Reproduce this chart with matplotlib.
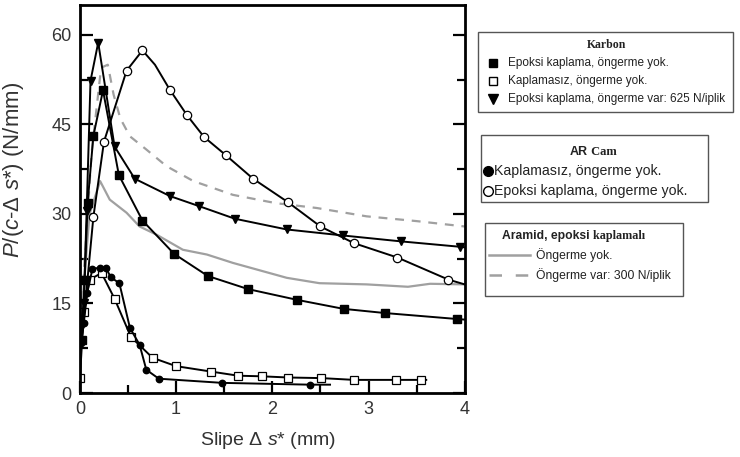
import numpy as np
import matplotlib.pyplot as plt
from matplotlib.lines import Line2D
from matplotlib.patches import Rectangle
from matplotlib.ticker import MultipleLocator

plt.rcParams['font.family'] = ['Liberation Sans', 'DejaVu Sans']
plt.rcParams['mathtext.fontset'] = 'custom'
plt.rcParams['mathtext.rm'] = 'Liberation Sans'
plt.rcParams['mathtext.it'] = 'Liberation Sans:italic'

# Karbon, epoksi kaplama, öngerme yok (dolu kare)
kare_dolu_x = [0.0, 0.02, 0.05, 0.08, 0.14, 0.24, 0.405, 0.65, 0.98, 1.33, 1.75, 2.26, 2.74, 3.17, 3.92, 4.0]
kare_dolu_y = [8.0, 8.9, 19.0, 31.8, 43.1, 50.7, 36.5, 28.9, 23.3, 19.6, 17.4, 15.6, 14.1, 13.4, 12.4, 12.3]

# Karbon, kaplamasız, öngerme yok (boş kare)
kare_bos_x = [0.0, 0.04, 0.1, 0.225, 0.36, 0.53, 0.755, 1.0, 1.36, 1.645, 1.89, 2.165, 2.51, 2.85, 3.29, 3.55, 3.6]
kare_bos_y = [2.5, 13.5, 19.0, 20.1, 15.8, 9.4, 5.9, 4.5, 3.6, 2.9, 2.8, 2.6, 2.5, 2.2, 2.2, 2.2, 2.2]

# Karbon, epoksi kaplama, öngerme var: 625 N/iplik (üçgen)
ucgen_x = [0.0, 0.04, 0.07, 0.11, 0.19, 0.36, 0.57, 0.935, 1.24, 1.61, 2.15, 2.73, 3.34, 3.95, 4.0]
ucgen_y = [10.5, 15.0, 30.5, 52.3, 58.7, 41.3, 35.9, 33.0, 31.3, 29.2, 27.4, 26.4, 25.4, 24.5, 24.4]

# AR Cam, kaplamasız, öngerme yok (dolu daire)
daire_dolu_x = [0.01, 0.04, 0.076, 0.13, 0.21, 0.27, 0.32, 0.41, 0.52, 0.62, 0.69, 0.82, 1.48, 2.39, 2.6]
daire_dolu_y = [8.4, 11.7, 16.8, 20.8, 21.0, 21.0, 19.4, 18.4, 10.9, 8.1, 3.9, 2.4, 1.7, 1.4, 1.4]

# AR Cam, epoksi kaplama, öngerme yok (boş daire)
daire_bos_x = [0.02, 0.14, 0.25, 0.485, 0.65, 0.78, 0.935, 1.115, 1.29, 1.52, 1.8, 2.16, 2.5, 2.85, 3.3, 3.83, 4.0]
daire_bos_y = [9.0, 29.5, 42.1, 54.0, 57.4, 55.0, 50.8, 46.5, 42.9, 39.8, 35.9, 32.0, 27.9, 25.1, 22.7, 19.0, 18.2]

# Aramid, epoksi kaplamalı
aramid_yok_x = [0.0, 0.1, 0.21, 0.31, 0.485, 0.62, 0.8, 1.07, 1.32, 1.59, 2.15, 2.49, 2.98, 3.41, 3.64, 4.0]
aramid_yok_y = [10.0, 30.0, 35.5, 32.4, 30.2, 27.9, 26.5, 24.0, 23.2, 21.8, 19.3, 18.4, 18.2, 17.8, 18.3, 18.2]
aramid_var_x = [0.0, 0.12, 0.22, 0.29, 0.35, 0.42, 0.52, 0.69, 0.9, 1.18, 1.59, 2.04, 2.46, 2.98, 3.5, 4.0]
aramid_var_y = [10.0, 40.0, 54.5, 55.0, 50.0, 46.0, 43.0, 40.8, 38.0, 35.5, 33.2, 31.8, 31.0, 29.6, 28.8, 27.9]

W, H = 740, 457
fig = plt.figure(figsize=(W / 100, H / 100), dpi=100)
ax = fig.add_axes([0.108, 0.140, 0.520, 0.849])

lw = 1.4
gri = '#a0a0a0'
ax.plot(aramid_yok_x, aramid_yok_y, color=gri, lw=1.6)
ax.plot(aramid_var_x, aramid_var_y, color=gri, lw=1.6, ls=(0, (4, 3.5)))

ax.plot(kare_bos_x, kare_bos_y, color='black', lw=lw, marker='s', ms=5.2,
        mfc='white', mec='black', mew=0.9, markevery=list(range(len(kare_bos_x) - 1)))
ax.plot(daire_dolu_x, daire_dolu_y, color='black', lw=lw, marker='o', ms=4.6,
        mfc='black', mec='black', markevery=list(range(len(daire_dolu_x) - 1)))
ax.plot(kare_dolu_x, kare_dolu_y, color='black', lw=lw, marker='s', ms=5.5,
        mfc='black', mec='black', markevery=list(range(1, len(kare_dolu_x) - 1)))
ax.plot(ucgen_x, ucgen_y, color='black', lw=lw, marker='v', ms=5.5,
        mfc='black', mec='black', markevery=list(range(len(ucgen_x) - 1)))
ax.plot(daire_bos_x, daire_bos_y, color='black', lw=lw, marker='o', ms=6,
        mfc='white', mec='black', mew=0.9,
        markevery=[i for i in range(1, len(daire_bos_x) - 1) if i != 5])

ax.set_xlim(0, 4)
ax.set_ylim(0, 65)
ax.xaxis.set_major_locator(MultipleLocator(1))
ax.xaxis.set_minor_locator(MultipleLocator(0.5))
ax.yaxis.set_minor_locator(MultipleLocator(7.5))
ax.set_yticks([0, 15, 30, 45, 60])
ax.tick_params(which='both', direction='in', right=True, top=False, width=1.6,
               labelsize=13, pad=6, labelcolor='#333333')
ax.tick_params(which='major', length=9)
ax.tick_params(which='minor', length=6)
for sp in ax.spines.values():
    sp.set_linewidth(2)

ax.set_xlabel(r'Slipe $\Delta$ $s$* (mm)', fontsize=14, color='#333333')
ax.set_ylabel(r'$P$/($c$-$\Delta$ $s$*) (N/mm)', fontsize=16, color='#333333')
ax.xaxis.set_label_coords(0.49, -0.095)
ax.yaxis.set_label_coords(-0.14, 0.575)


# Lejant kutuları, şekil pikselleriyle yerleştirilir
def fp(x, y):
    return x / W, 1 - y / H


def kutu(x0, y0, x1, y1):
    fig.patches.append(Rectangle(fp(x0, y1), (x1 - x0) / W, (y1 - y0) / H,
                                 transform=fig.transFigure, fill=False,
                                 edgecolor='#555555', lw=1.0))


def isaret(x, y, **kw):
    fig.lines.append(Line2D([fp(x, y)[0]], [fp(x, y)[1]], transform=fig.transFigure,
                            ls='none', mec='black', **kw))


def yazi(x, y, s, size, **kw):
    return fig.text(*fp(x, y), s, fontsize=size, va='center', color='#222222', **kw)


# Karbon
kutu(478, 32, 733, 112)
yazi(607, 45, 'Karbon', 8.5, ha='center', weight='bold', family='Liberation Serif')
karbon_sat = ['Epoksi kaplama, öngerme yok.', 'Kaplamasız, öngerme yok.',
              'Epoksi kaplama, öngerme var: 625 N/iplik']
karbon_isr = [dict(marker='s', ms=6, mfc='black'), dict(marker='s', ms=6, mfc='white'),
              dict(marker='v', ms=6.5, mfc='black')]
for i, (s, k) in enumerate(zip(karbon_sat, karbon_isr)):
    yy = 63 + 18 * i
    isaret(493, yy, **k)
    yazi(508, yy, s, 8.5)

# AR Cam
kutu(481, 135, 708, 202)
t1 = yazi(570, 152, 'AR', 9, ha='left', weight='bold')
ax.annotate(' Cam', xy=(1, 0), xycoords=t1, fontsize=9, weight='bold',
            family='Liberation Serif', color='#222222', va='bottom', annotation_clip=False)
cam_sat = ['Kaplamasız, öngerme yok.', 'Epoksi kaplama, öngerme yok.']
cam_isr = [dict(marker='o', ms=7, mfc='black'), dict(marker='o', ms=7, mfc='white')]
for i, (s, k) in enumerate(zip(cam_sat, cam_isr)):
    yy = 171 + 20 * i
    isaret(488, yy, **k)
    yazi(494, yy, s, 10.2)

# Aramid
kutu(485, 223, 683, 296)
t2 = yazi(502, 236, 'Aramid, epoksi', 8.7, ha='left', weight='bold')
ax.annotate(' kaplamalı', xy=(1, 0), xycoords=t2, fontsize=8.7, weight='bold',
            family='Liberation Serif', color='#222222', va='bottom', annotation_clip=False)
aramid_sat = ['Öngerme yok.', 'Öngerme var: 300 N/iplik']
aramid_ls = ['-', (0, (5, 5.5))]
for i, (s, st) in enumerate(zip(aramid_sat, aramid_ls)):
    yy = 255 + 20 * i
    x0, y0 = fp(489, yy)
    x1, _ = fp(530, yy)
    fig.lines.append(Line2D([x0, x1], [y0, y0], transform=fig.transFigure,
                            color=gri, lw=1.8, ls=st))
    yazi(536, yy, s, 8.7)

fig.savefig('out.png', dpi=100)
